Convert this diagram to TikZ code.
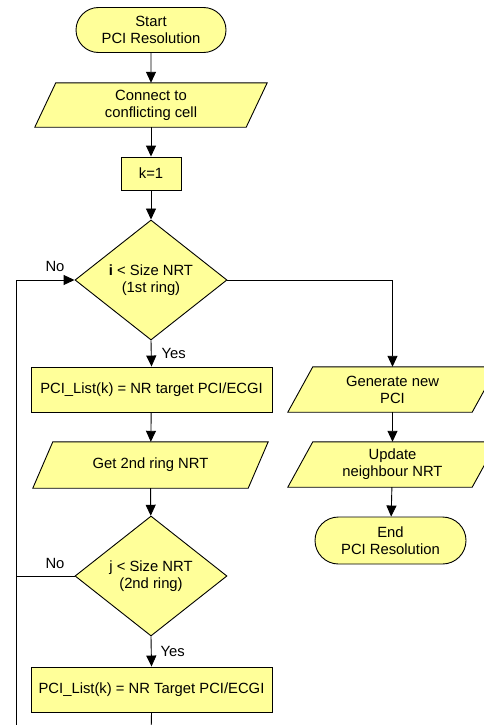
\documentclass[tikz,border=0pt]{standalone}
\usepackage{fontspec}
\setmainfont{Liberation Sans}
\usetikzlibrary{arrows.meta,shapes.geometric,shapes.misc,backgrounds,calc}
\tikzset{
  >={Triangle[length=11pt,width=10pt]}
}

\begin{document}
\begin{tikzpicture}[x=1pt,y=-1pt]

            % BOUNDING BOX
            \useasboundingbox (0,0) rectangle (484,725);
            \clip (0,0) rectangle (484,725);

            % DEF COORDINATES
            \coordinate (p0_pci) at (151, 30);
            \coordinate (p1_pci) at (151, 105);
            \coordinate (p2_pci) at (151, 173.5);
            \coordinate (p3_pci) at (151, 280);
            \coordinate (p4_pci) at (151.5, 389.5);
            \coordinate (p5_pci) at (150.5, 465);
            \coordinate (p6_pci) at (151, 576);
            \coordinate (p7_pci) at (151.5, 689.5);
            \coordinate (p8_pci) at (392.5, 389.5);
            \coordinate (p9_pci) at (392.5, 464.5);
            \coordinate (p10_pci) at (390.5, 540.5);
            \coordinate (loop_pci) at (16, 740);
            \coordinate (out_pci) at (151, 740);

            % FILLCOLOR
            \definecolor{fillcolor_pci}{HTML}{FFFF99}

            % DEF NODESTYLES
            \tikzstyle{textstyle_pci} = [font=\fontsize{14.8}{17}\selectfont, text=black, align=center, inner sep=0pt]
            \tikzstyle{boxstyle_pci} = [textstyle_pci, draw=black, line width=0.9pt, fill=fillcolor_pci]
            \tikzstyle{termstyle_pci} = [boxstyle_pci, rounded rectangle, minimum height=45pt]
            \tikzstyle{iostyle_pci} = [textstyle_pci, rectangle, minimum height=45pt]
            \tikzstyle{stepstyle_pci} = [boxstyle_pci, rectangle, minimum height=45pt, minimum width=241pt]
            \tikzstyle{decstyle_pci} = [boxstyle_pci, diamond, minimum width=152pt, minimum height=120pt]

            % NODES
            \node[termstyle_pci, minimum width=150pt] (v0_pci) at (p0_pci) {Start\\PCI Resolution};
            \node[iostyle_pci, minimum width=232pt, minimum height=44pt] (v1_pci) at (p1_pci) {Connect to\\conflicting cell};
            \node[stepstyle_pci, minimum width=60pt, minimum height=33pt] (v2_pci) at (p2_pci) {k=1};
            \node[decstyle_pci] (v3_pci) at (p3_pci) {\textbf{i} < Size NRT\\(1st ring)};
            \node[stepstyle_pci] (v4_pci) at (p4_pci) {PCI\_List(k) = NR target PCI/ECGI};
            \node[iostyle_pci, minimum width=235pt, minimum height=46pt] (v5_pci) at (p5_pci) {Get 2nd ring NRT};
            \node[decstyle_pci] (v6_pci) at (p6_pci) {j < Size NRT\\(2nd ring)};
            \node[stepstyle_pci] (v7_pci) at (p7_pci) {PCI\_List(k) = NR Target PCI/ECGI};
            \node[iostyle_pci, minimum width=209pt] (v8_pci) at (p8_pci) {Generate new\\PCI};
            \node[iostyle_pci, minimum width=209pt] (v9_pci) at (p9_pci) {Update\\neighbour NRT};
            \node[termstyle_pci, minimum width=151pt, minimum height=47pt] (v10_pci) at (p10_pci) {End\\PCI Resolution};

            % PARALLELOGRAMS
            \begin{scope}[on background layer]
              \foreach \i/\s in {1/21,5/20,8/25,9/25} {
                \draw[boxstyle_pci] (v\i_pci.south west) -- ($(v\i_pci.north west)+(\s,0)$)
                  -- (v\i_pci.north east) -- ($(v\i_pci.south east)-(\s,0)$) -- cycle;
              }
            \end{scope}

            % LABELS
            \node[textstyle_pci] (no0_pci) at (55, 266) {No};
            \node[textstyle_pci] (no1_pci) at (55, 563) {No};

            % EDGESTYLE
            \tikzstyle{edgestyle_pci} = [line width=0.9pt, color=black]

            % EDGES
            \foreach \i/\k in {0/1,1/2,2/3,4/5,5/6,8/9,9/10} {
              \draw[edgestyle_pci, ->] (v\i_pci) -- (v\k_pci);
            }
            \draw[edgestyle_pci, ->] (v3_pci.south) -- node[textstyle_pci, anchor=west, xshift=10pt] (yes0_pci) {Yes} (v4_pci.north);
            \draw[edgestyle_pci, ->] (v6_pci.south) -- node[textstyle_pci, anchor=west, xshift=9pt] (yes1_pci) {Yes} (v7_pci.north);
            \draw[edgestyle_pci, ->] (v3_pci.east) -| (v8_pci.north);
            \draw[edgestyle_pci, ->] (loop_pci) |- (v3_pci.west);
            \draw[edgestyle_pci] (v6_pci.west) -- (v6_pci.west -| loop_pci);
            \draw[edgestyle_pci] (v7_pci.south) -- (out_pci);

          \end{tikzpicture}
\end{document}
